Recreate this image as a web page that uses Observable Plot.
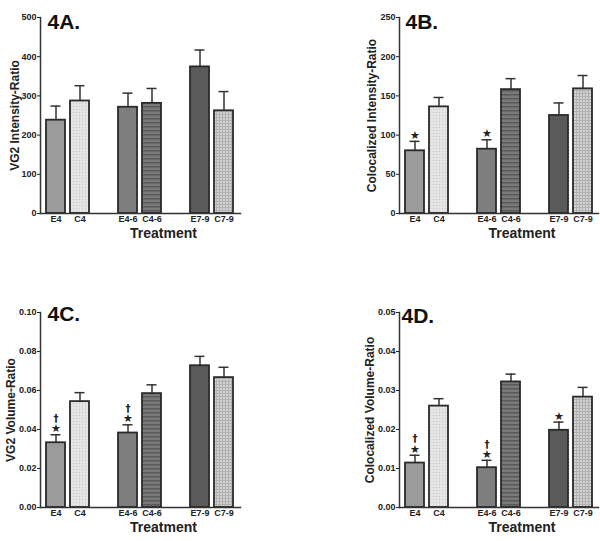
<!DOCTYPE html>
<html>
<head>
<meta charset="utf-8">
<script src="https://cdn.jsdelivr.net/npm/d3@7"></script>
<script src="https://cdn.jsdelivr.net/npm/@observablehq/plot@0.6"></script>
<style>
  html, body { margin: 0; padding: 0; background: #fff; }
  #grid { display: grid; grid-template-columns: 300px 300px; grid-template-rows: 270px 271px; width: 600px; height: 541px; }
  #grid svg { font-family: "Liberation Sans", Arial, sans-serif; font-weight: bold; color: #222; overflow: visible; }
</style>
</head>
<body>
<svg width="0" height="0" style="position:absolute">
  <defs>
    <pattern id="pDots" width="3" height="3" patternUnits="userSpaceOnUse">
      <rect width="3" height="3" fill="#e4e4e4"/>
      <rect x="1" y="1" width="1" height="1" fill="#c8c8c8"/>
    </pattern>
    <pattern id="pStripes" width="4" height="4" patternUnits="userSpaceOnUse">
      <rect width="4" height="4" fill="#7a7a7a"/>
      <rect y="2" width="4" height="1.5" fill="#5a5a5a"/>
    </pattern>
    <pattern id="pCheck" width="3" height="3" patternUnits="userSpaceOnUse">
      <rect width="3" height="3" fill="#d2d2d2"/>
      <rect width="3" height="1" fill="#b0b0b0"/>
      <rect width="1" height="3" fill="#b0b0b0"/>
    </pattern>
  </defs>
</svg>
<div id="grid"></div>
<script>
// ---- data ----
const categories = ["E4", "C4", "E4-6", "C4-6", "E7-9", "C7-9"];

const valuesA = [238, 287, 271, 281, 374, 262];
const upperA  = [274, 326, 307, 319, 417, 311];
const ticksA  = [0, 100, 200, 300, 400, 500];

const valuesB = [80, 136, 82, 158, 125, 159];
const upperB  = [92, 148, 94, 172, 141, 176];
const ticksB  = [0, 50, 100, 150, 200, 250];

const valuesC = [0.0332, 0.0543, 0.0382, 0.0584, 0.0727, 0.0666];
const upperC  = [0.0373, 0.0589, 0.0424, 0.0629, 0.0775, 0.0719];
const ticksC  = [0, 0.02, 0.04, 0.06, 0.08, 0.10];

const valuesD = [0.0114, 0.0260, 0.0102, 0.0322, 0.0198, 0.0283];
const upperD  = [0.0134, 0.0279, 0.0121, 0.0342, 0.0219, 0.0308];
const ticksD  = [0, 0.01, 0.02, 0.03, 0.04, 0.05];

const starsB = ["E4", "E4-6"];
const starsC = ["E4", "E4-6"];
const daggersC = ["E4", "E4-6"];
const starsD = ["E4", "E4-6", "E7-9"];
const daggersD = ["E4", "E4-6"];

// ---- styles ----
const fills = {
  "E4": "#9b9b9b",
  "C4": "url(#pDots)",
  "E4-6": "#7e7e7e",
  "C4-6": "url(#pStripes)",
  "E7-9": "#5a5a5a",
  "C7-9": "url(#pCheck)"
};
// band domain with spacer slots between the three groups
const xDomain = ["E4", "C4", "_s1", "E4-6", "C4-6", "_s2", "E7-9", "C7-9"];

function panel({title, values, upper, ticks, fmt, ylabel, stars = [], daggers = [],
                height, mt, mb, ml, mr, titleDx, titleDy, ylabDx, treatDy}) {
  const rows = categories.map((c, i) => ({cat: c, value: values[i], upper: upper[i], fill: fills[c]}));
  const byCat = new Map(rows.map(r => [r.cat, r]));
  const starRows = stars.map(c => byCat.get(c));
  const dagRows = daggers.map(c => byCat.get(c));
  return Plot.plot({
    width: 300,
    height,
    marginTop: mt, marginBottom: mb, marginLeft: ml, marginRight: mr,
    x: {domain: xDomain, paddingInner: 0.2, paddingOuter: 0.17},
    y: {domain: [ticks[0], ticks[ticks.length - 1]]},
    color: {type: "identity"},
    marks: [
      Plot.axisY({ticks, tickFormat: fmt, tickSize: 3, tickPadding: 1, fontSize: 9, label: null, stroke: "#222"}),
      Plot.axisX({ticks: categories, tickSize: 0, tickPadding: 2, fontSize: 9, label: null}),
      Plot.ruleX(rows, {x: "cat", y1: "value", y2: "upper", stroke: "#333", strokeWidth: 1.5}),
      Plot.tickY(rows, {x: "cat", y: "upper", insetLeft: 4.5, insetRight: 4.5, stroke: "#333", strokeWidth: 1.5}),
      Plot.barY(rows, {x: "cat", y: "value", fill: "fill", stroke: "#2a2a2a", strokeWidth: 1.8}),
      Plot.frame({anchor: "left", stroke: "#333", strokeWidth: 1.5}),
      Plot.frame({anchor: "bottom", stroke: "#333", strokeWidth: 1.5}),
      Plot.text(starRows, {x: "cat", y: "upper", text: () => "\u2605", dy: -6, fontSize: 11, fill: "#222", fontFamily: "DejaVu Sans"}),
      Plot.text(dagRows, {x: "cat", y: "upper", text: () => "\u2020", dy: -16, fontSize: 10, fill: "#222", fontFamily: "DejaVu Sans"}),
      Plot.text([title], {frameAnchor: "top-left", text: d => d, textAnchor: "start", lineAnchor: "middle", dx: titleDx, dy: titleDy, fontSize: 21, fontWeight: "bold", fill: "#111"}),
      Plot.text([ylabel], {frameAnchor: "left", text: d => d, textAnchor: "middle", lineAnchor: "middle", rotate: -90, dx: ylabDx, fontSize: 12, fontWeight: "bold", fill: "#222"}),
      Plot.text(["Treatment"], {frameAnchor: "bottom", text: d => d, dx: 23, dy: treatDy, fontSize: 14, fontWeight: "bold", fill: "#222"})
    ]
  });
}

const grid = document.getElementById("grid");
grid.append(panel({title: "4A.", values: valuesA, upper: upperA, ticks: ticksA, fmt: d3.format("d"),
  ylabel: "VG2 Intensity-Ratio", height: 270, mt: 17, mb: 57, ml: 40, mr: 60, titleDx: 7, titleDy: 5, ylabDx: -25, treatDy: 24}));
grid.append(panel({title: "4B.", values: valuesB, upper: upperB, ticks: ticksB, fmt: d3.format("d"),
  ylabel: "Colocalized Intensity-Ratio", stars: starsB, height: 270, mt: 17, mb: 57, ml: 99, mr: 2, titleDx: 6, titleDy: 5, ylabDx: -27, treatDy: 24}));
grid.append(panel({title: "4C.", values: valuesC, upper: upperC, ticks: ticksC, fmt: d3.format(".2f"),
  ylabel: "VG2 Volume-Ratio", stars: starsC, daggers: daggersC, height: 271, mt: 42, mb: 34, ml: 40, mr: 60, titleDx: 7, titleDy: 2, ylabDx: -29, treatDy: 24}));
grid.append(panel({title: "4D.", values: valuesD, upper: upperD, ticks: ticksD, fmt: d3.format(".2f"),
  ylabel: "Colocalized Volume-Ratio", stars: starsD, daggers: daggersD, height: 271, mt: 42, mb: 34, ml: 99, mr: 2, titleDx: 2, titleDy: 4, ylabDx: -29, treatDy: 24}));
</script>
</body>
</html>
